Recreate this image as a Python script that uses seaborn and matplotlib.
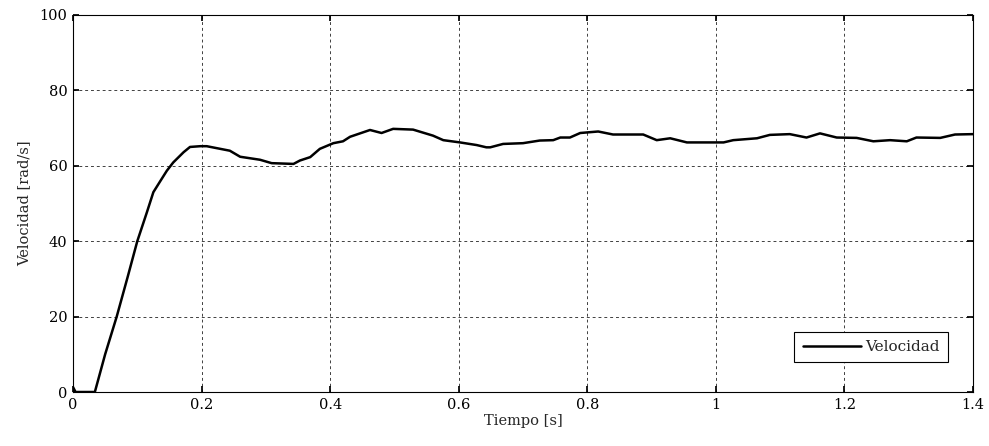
import matplotlib
matplotlib.use("Agg")
import matplotlib.pyplot as plt
import seaborn as sns
import pandas as pd

time_s = [0.000, 0.004, 0.034, 0.050, 0.068, 0.085, 0.100, 0.115, 0.125, 0.136, 0.146, 0.156, 0.172, 0.182,
          0.198, 0.208, 0.244, 0.260, 0.291, 0.309, 0.343, 0.353, 0.369, 0.384, 0.405,
          0.420, 0.431, 0.462, 0.480, 0.498, 0.529, 0.560, 0.576, 0.602, 0.628, 0.643,
          0.649, 0.669, 0.700, 0.726, 0.747, 0.758, 0.773, 0.789, 0.817, 0.840, 0.887,
          0.908, 0.929, 0.955, 1.012, 1.027, 1.064, 1.084, 1.115, 1.141, 1.162, 1.188,
          1.219, 1.245, 1.271, 1.297, 1.312, 1.349, 1.372, 1.400]
velocity = [1.3, 0.0, 0.0, 10.0, 20.0, 30.5, 40.0, 47.7, 53.0, 56.0, 58.7, 60.9, 63.6, 65.0,
            65.2, 65.2, 64.0, 62.4, 61.6, 60.7, 60.5, 61.4, 62.3, 64.5, 66.0,
            66.5, 67.7, 69.5, 68.7, 69.8, 69.6, 68.0, 66.8, 66.2, 65.5, 64.9,
            64.9, 65.8, 66.0, 66.7, 66.8, 67.5, 67.5, 68.7, 69.1, 68.3, 68.3,
            66.8, 67.3, 66.2, 66.2, 66.8, 67.3, 68.2, 68.4, 67.5, 68.6, 67.5,
            67.4, 66.5, 66.8, 66.5, 67.5, 67.4, 68.3, 68.4]
x_ticks = [0, 0.2, 0.4, 0.6, 0.8, 1.0, 1.2, 1.4]
x_tick_labels = ["0", "0.2", "0.4", "0.6", "0.8", "1", "1.2", "1.4"]
y_ticks = [0, 20, 40, 60, 80, 100]

sns.set_theme(style="white")
plt.rcParams['font.family'] = ['DejaVu Serif']
plt.rcParams['font.size'] = 10

df = pd.DataFrame({"Tiempo": time_s, "Velocidad": velocity})

fig = plt.figure(figsize=(9.89, 4.46), dpi=100)
ax = fig.add_axes([73/989, 54/446, 900/989, 377/446])
sns.lineplot(data=df, x="Tiempo", y="Velocidad", ax=ax, color="black", linewidth=1.8,
             label="Velocidad", sort=False, estimator=None)

ax.set_xlim(0, 1.4)
ax.set_ylim(0, 100)
ax.set_xticks(x_ticks)
ax.set_xticklabels(x_tick_labels)
ax.set_yticks(y_ticks)
ax.grid(True, color="black", linestyle=(0, (3, 3)), linewidth=0.7, alpha=0.75)
for s in ax.spines.values():
    s.set_color("black")
    s.set_linewidth(0.8)
ax.tick_params(direction="in", length=4, top=True, right=True, bottom=True, left=True,
               colors="black", labelsize=10.5, pad=4)
ax.set_xlabel("Tiempo [s]", fontsize=10.5, labelpad=2)
ax.set_ylabel("Velocidad [rad/s]", fontsize=10.5, labelpad=6)
leg = ax.legend(loc="lower right", bbox_to_anchor=(0.981, 0.058), fancybox=False,
                framealpha=1, edgecolor="black", fontsize=11, borderpad=0.55,
                handlelength=3.8, handletextpad=0.3)
leg.get_frame().set_linewidth(0.8)

fig.savefig("out.png", dpi=100)
